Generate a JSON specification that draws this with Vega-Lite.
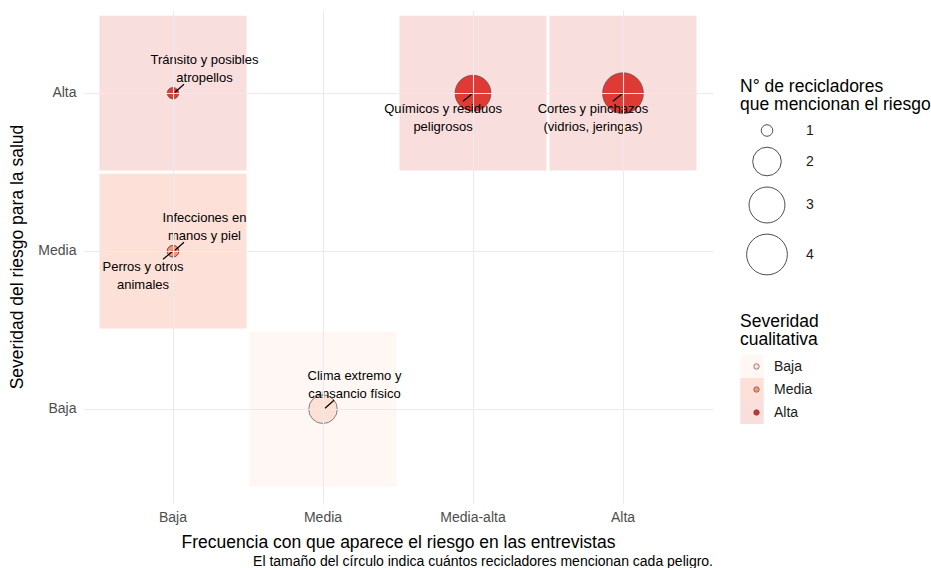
{
  "$schema": "https://vega.github.io/schema/vega-lite/v6.json",
  "width": 630,
  "height": 493,
  "autosize": {"type": "none"},
  "padding": {"left": 83, "top": 10, "right": 218, "bottom": 65},
  "background": "white",
  "config": {
    "font": "Liberation Sans",
    "view": {"stroke": null},
    "axis": {
      "domain": false,
      "ticks": false,
      "grid": true,
      "gridColor": "#ebebeb",
      "gridWidth": 1.1,
      "labelFont": "Liberation Sans",
      "titleFont": "Liberation Sans",
      "labelFontSize": 14,
      "labelColor": "#4d4d4d",
      "titleFontSize": 17.5,
      "titleFontWeight": "normal",
      "titleColor": "#000000"
    },
    "legend": {
      "titleFont": "Liberation Sans",
      "labelFont": "Liberation Sans",
      "titleFontSize": 17.5,
      "titleFontWeight": "normal",
      "titleColor": "#000000",
      "titleLineHeight": 18,
      "titleLimit": 400,
      "labelFontSize": 14,
      "labelColor": "#1a1a1a",
      "orient": "none",
      "padding": 0
    }
  },
  "title": {
    "text": "El tamaño del círculo indica cuántos recicladores mencionan cada peligro.",
    "orient": "bottom",
    "anchor": "end",
    "frame": "group",
    "offset": 4,
    "fontSize": 14,
    "fontWeight": "normal",
    "color": "#000000",
    "font": "Liberation Sans"
  },
  "data": {
    "values": [
      {"riesgo": "Tránsito y posibles\natropellos", "frecuencia": "Baja", "severidad": "Alta", "n": 1},
      {"riesgo": "Infecciones en\nmanos y piel", "frecuencia": "Baja", "severidad": "Media", "n": 1},
      {"riesgo": "Perros y otros\nanimales", "frecuencia": "Baja", "severidad": "Media", "n": 1},
      {"riesgo": "Químicos y residuos\npeligrosos", "frecuencia": "Media-alta", "severidad": "Alta", "n": 3},
      {"riesgo": "Cortes y pinchazos\n(vidrios, jeringas)", "frecuencia": "Alta", "severidad": "Alta", "n": 4},
      {"riesgo": "Clima extremo y\ncansancio físico", "frecuencia": "Media", "severidad": "Baja", "n": 2}
    ]
  },
  "encoding": {
    "x": {
      "field": "frecuencia",
      "type": "nominal",
      "scale": {"domain": ["Baja", "Media", "Media-alta", "Alta"], "paddingInner": 0.02, "paddingOuter": 0.11},
      "axis": {"title": "Frecuencia con que aparece el riesgo en las entrevistas", "labelAngle": 0, "labelPadding": 7, "titlePadding": 9, "bandPosition": 0.5}
    },
    "y": {
      "field": "severidad",
      "type": "nominal",
      "scale": {"domain": ["Alta", "Media", "Baja"], "paddingInner": 0.02, "paddingOuter": 0.07, "align": 0.26},
      "axis": {"title": "Severidad del riesgo para la salud", "labelPadding": 7, "titlePadding": 11, "bandPosition": 0.5}
    }
  },
  "layer": [
    {
      "transform": [{"aggregate": [{"op": "count", "as": "k"}], "groupby": ["frecuencia", "severidad"]}],
      "mark": {"type": "rect", "opacity": 0.85},
      "encoding": {
        "fill": {
          "field": "severidad",
          "type": "nominal",
          "sort": ["Baja", "Media", "Alta"],
          "scale": {"range": ["#fef6f2", "#fddbd0", "#f8d8d8"]},
          "legend": {
            "title": ["Severidad", "cualitativa"],
            "orient": "none",
            "legendX": 657,
            "legendY": 303,
            "titlePadding": 6.5,
            "symbolType": "square",
            "symbolSize": 552,
            "symbolStrokeWidth": 0,
            "symbolOpacity": 0.85,
            "clipHeight": 23,
            "rowPadding": 0,
            "labelOffset": 10,
            "zindex": 1
          }
        }
      }
    },
    {
      "mark": {"type": "point", "filled": true, "opacity": 0.92, "stroke": "#444444", "strokeWidth": 0.7, "shape": "circle"},
      "encoding": {
        "color": {
          "field": "severidad",
          "type": "nominal",
          "scale": {"domain": ["Baja", "Media", "Alta"], "range": ["#fee0d2", "#fc9272", "#de2d26"]},
          "legend": {
            "title": null,
            "orient": "none",
            "legendX": 657,
            "legendY": 345,
            "symbolType": "circle",
            "symbolSize": 30,
            "symbolOffset": 9.5,
            "symbolStrokeColor": "#444444",
            "symbolStrokeWidth": 0.6,
            "symbolOpacity": 1,
            "clipHeight": 23,
            "rowPadding": 0,
            "labelOffset": 10,
            "labelExpr": "''",
            "zindex": 2
          }
        },
        "size": {
          "field": "n",
          "type": "quantitative",
          "scale": {"type": "pow", "exponent": 0.3, "zero": false, "domain": [1, 4], "range": [133, 1662]},
          "legend": {
            "title": ["N° de recicladores", "que mencionan el riesgo"],
            "orient": "none",
            "legendX": 657,
            "legendY": 68,
            "values": [1, 2, 3, 4],
            "format": "d",
            "titlePadding": 10,
            "symbolType": "circle",
            "symbolFillColor": "white",
            "symbolStrokeColor": "#4d4d4d",
            "symbolStrokeWidth": 1,
            "symbolOpacity": 1,
            "symbolOffset": 6,
            "rowPadding": 6,
            "labelOffset": 18
          }
        }
      }
    },
    {
      "transform": [{"filter": {"field": "riesgo", "oneOf": ["Tránsito y posibles\natropellos", "Infecciones en\nmanos y piel", "Clima extremo y\ncansancio físico"]}}],
      "mark": {"type": "rule", "color": "#000000", "strokeWidth": 1.2, "xOffset": 2, "yOffset": -1, "x2Offset": 11, "y2Offset": -9},
      "encoding": {
        "x": {"field": "frecuencia", "type": "nominal", "bandPosition": 0.5},
        "x2": {"field": "frecuencia", "bandPosition": 0.5},
        "y": {"field": "severidad", "type": "nominal", "bandPosition": 0.5},
        "y2": {"field": "severidad", "bandPosition": 0.5}
      }
    },
    {
      "transform": [{"filter": {"field": "riesgo", "oneOf": ["Perros y otros\nanimales", "Químicos y residuos\npeligrosos", "Cortes y pinchazos\n(vidrios, jeringas)"]}}],
      "mark": {"type": "rule", "color": "#000000", "strokeWidth": 1.2, "xOffset": -10, "yOffset": 8, "x2Offset": 1, "y2Offset": -1},
      "encoding": {
        "x": {"field": "frecuencia", "type": "nominal", "bandPosition": 0.5},
        "x2": {"field": "frecuencia", "bandPosition": 0.5},
        "y": {"field": "severidad", "type": "nominal", "bandPosition": 0.5},
        "y2": {"field": "severidad", "bandPosition": 0.5}
      }
    },
    {
      "transform": [{"filter": {"field": "riesgo", "oneOf": ["Tránsito y posibles\natropellos", "Infecciones en\nmanos y piel", "Clima extremo y\ncansancio físico"]}}],
      "mark": {"type": "text", "align": "center", "baseline": "middle", "lineBreak": "\n", "lineHeight": 18, "fontSize": 13, "font": "Liberation Sans", "color": "#000000", "dx": 31.5, "dy": -33},
      "encoding": {"text": {"field": "riesgo"}}
    },
    {
      "transform": [{"filter": {"field": "riesgo", "oneOf": ["Perros y otros\nanimales", "Químicos y residuos\npeligrosos", "Cortes y pinchazos\n(vidrios, jeringas)"]}}],
      "mark": {"type": "text", "align": "center", "baseline": "middle", "lineBreak": "\n", "lineHeight": 18, "fontSize": 13, "font": "Liberation Sans", "color": "#000000", "dx": -30, "dy": 16},
      "encoding": {"text": {"field": "riesgo"}}
    }
  ]
}
